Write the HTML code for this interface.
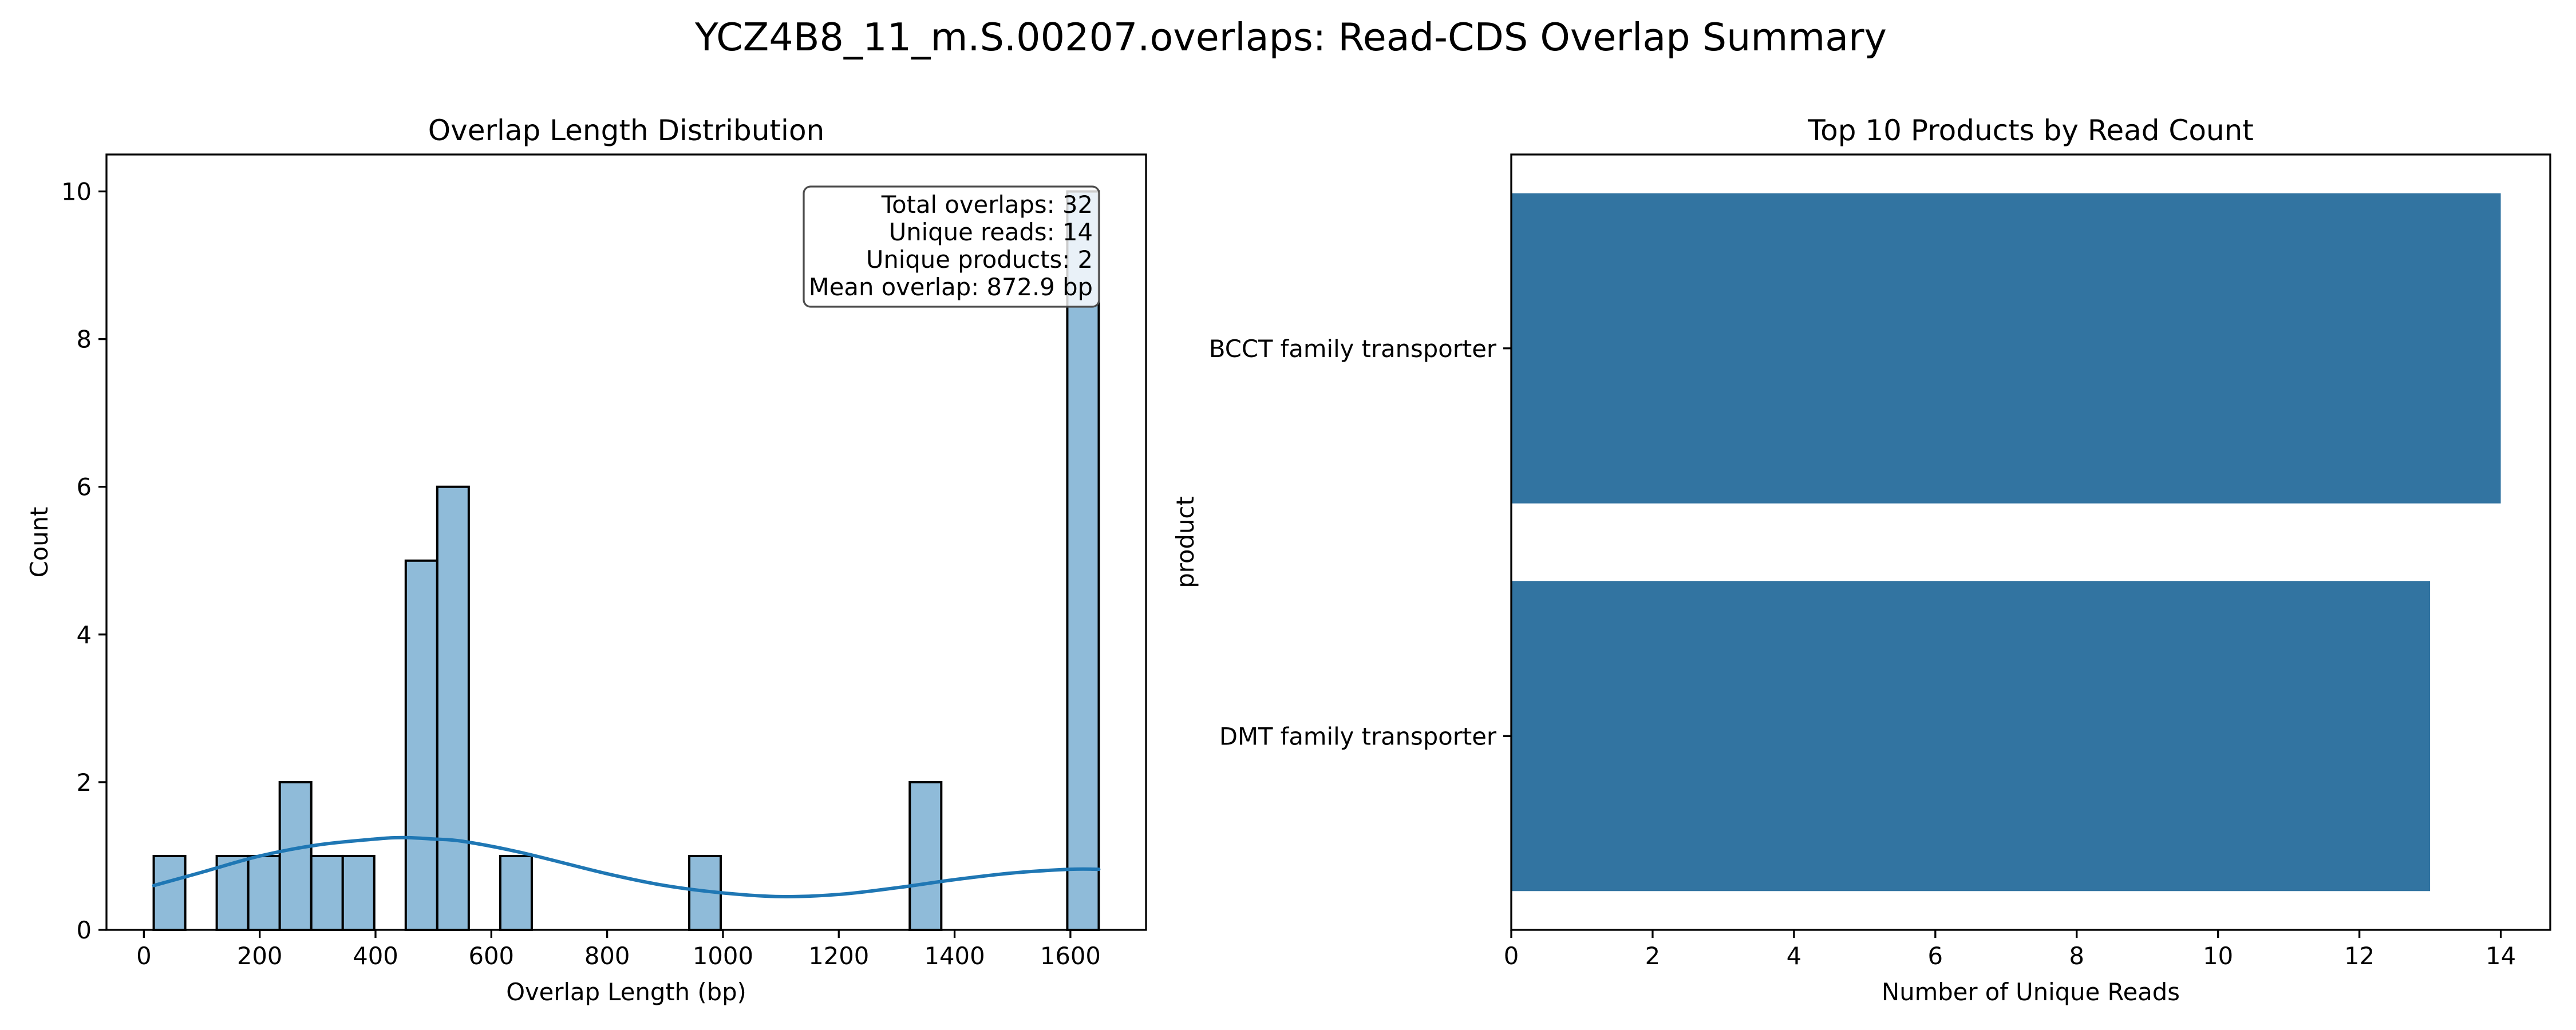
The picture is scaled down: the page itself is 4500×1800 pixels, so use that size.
<!DOCTYPE html>
<html><head><meta charset="utf-8"><style>
html,body{margin:0;padding:0;background:#fff}
svg{display:block}
text{font-family:"DejaVu Sans","Liberation Sans",sans-serif;fill:#000}
</style></head><body>
<svg id="fig" width="4500" height="1800" viewBox="0 0 4500 1800" xmlns="http://www.w3.org/2000/svg">
<rect width="4500" height="1800" fill="#fff"/>
<text x="2255" y="88" font-size="66.7" text-anchor="middle">YCZ4B8_11_m.S.00207.overlaps: Read-CDS Overlap Summary</text>
<g id="left"></g>
<g id="right"></g>
</svg>
<script>
// Histogram data
const binStart = 17;
const binWidth = 54.4;
const binCounts = [1,0,1,1,2,1,1,0,5,6,0,1,0,0,0,0,0,1,0,0,0,0,0,0,2,0,0,0,0,10];
const xTicks = [0,200,400,600,800,1000,1200,1400,1600];
const yTicks = [0,2,4,6,8,10];
const kdeX = [17,100,200,300,400,450,500,550,650,800,900,1000,1100,1200,1300,1400,1500,1600,1649];
const kdeY = [0.6,0.78,1.0,1.15,1.23,1.25,1.23,1.2,1.05,0.76,0.6,0.5,0.45,0.48,0.57,0.68,0.77,0.82,0.82];
const statLines = ["Total overlaps: 32","Unique reads: 14","Unique products: 2","Mean overlap: 872.9 bp"];
// Bar chart data
const products = ["BCCT family transporter","DMT family transporter"];
const readCounts = [14,13];
const rxTicks = [0,2,4,6,8,10,12,14];

const NS="http://www.w3.org/2000/svg";
function mk(parent,tag,attrs,txt){const e=document.createElementNS(NS,tag);for(const k in attrs)e.setAttribute(k,attrs[k]);if(txt!==undefined)e.textContent=txt;parent.appendChild(e);return e;}

// ---------- Left panel ----------
const L=document.getElementById('left');
const A={x0:186,x1:2002,y0:270,y1:1625};
const xmin=-64.6,xmax=1730.6,ymin=0,ymax=10.5;
const sx=v=>A.x0+(v-xmin)/(xmax-xmin)*(A.x1-A.x0);
const sy=v=>A.y1-(v-ymin)/(ymax-ymin)*(A.y1-A.y0);
mk(L,'text',{x:(A.x0+A.x1)/2,y:245,'font-size':50,'text-anchor':'middle',},'Overlap Length Distribution');
binCounts.forEach((c,i)=>{
  if(c<=0)return;
  const a=binStart+i*binWidth,b=a+binWidth;
  const r=mk(L,'rect',{x:sx(a),y:sy(c),width:sx(b)-sx(a),height:sy(0)-sy(c),fill:'#8fbbd9',stroke:'#000','stroke-width':4});
  
  
});
// KDE curve (Catmull-Rom)
const pts=kdeX.map((x,i)=>[sx(x),sy(kdeY[i])]);
let d=`M${pts[0][0]},${pts[0][1]}`;
for(let i=0;i<pts.length-1;i++){
  const p0=pts[Math.max(0,i-1)],p1=pts[i],p2=pts[i+1],p3=pts[Math.min(pts.length-1,i+2)];
  const c1=[p1[0]+(p2[0]-p0[0])/6,p1[1]+(p2[1]-p0[1])/6];
  const c2=[p2[0]-(p3[0]-p1[0])/6,p2[1]-(p3[1]-p1[1])/6];
  d+=`C${c1[0]},${c1[1]} ${c2[0]},${c2[1]} ${p2[0]},${p2[1]}`;
}
const kde=mk(L,'path',{d:d,fill:'none',stroke:'#1f77b4','stroke-width':6,'stroke-linecap':'round'});


mk(L,'rect',{x:A.x0,y:A.y0,width:A.x1-A.x0,height:A.y1-A.y0,fill:'none',stroke:'#000','stroke-width':3.3,});
xTicks.forEach(t=>{
  const x=sx(t);
  mk(L,'line',{x1:x,x2:x,y1:A.y1,y2:A.y1+14,stroke:'#000','stroke-width':3.3});
  const tx=mk(L,'text',{x:x,y:1685,'font-size':41.7,'text-anchor':'middle'},String(t));
  
  
});
yTicks.forEach(t=>{
  const y=sy(t);
  mk(L,'line',{x1:A.x0-14,x2:A.x0,y1:y,y2:y,stroke:'#000','stroke-width':3.3});
  const tx=mk(L,'text',{x:A.x0-26,y:y+15,'font-size':41.7,'text-anchor':'end'},String(t));
  
  
});
mk(L,'text',{x:(A.x0+A.x1)/2,y:1748,'font-size':41.7,'text-anchor':'middle',},'Overlap Length (bp)');
mk(L,'text',{x:0,y:0,'font-size':41.7,'text-anchor':'middle',transform:`translate(83,${(A.y0+A.y1)/2}) rotate(-90)`,},'Count');
// stats box
mk(L,'rect',{x:1404,y:326,width:516,height:210,rx:12,fill:'#fff','fill-opacity':0.8,stroke:'#4d4d4d','stroke-width':3.3,});
statLines.forEach((s,i)=>{
  const tx=mk(L,'text',{x:1909,y:372+i*48,'font-size':41.7,'text-anchor':'end'},s);
  
  
});

// ---------- Right panel ----------
const R=document.getElementById('right');
const B={x0:2640,x1:4455,y0:270,y1:1625};
const rmax=Math.max(...readCounts)*1.05;
const rx=v=>B.x0+v/rmax*(B.x1-B.x0);
const n=products.length;
const ry=v=>B.y0+(v+0.5)/n*(B.y1-B.y0);
mk(R,'text',{x:(B.x0+B.x1)/2,y:245,'font-size':50,'text-anchor':'middle',},'Top 10 Products by Read Count');
products.forEach((p,i)=>{
  const r=mk(R,'rect',{x:B.x0,y:ry(i-0.4),width:rx(readCounts[i])-B.x0,height:ry(i+0.4)-ry(i-0.4),fill:'#3274a1'});
  
  
  const y=ry(i);
  mk(R,'line',{x1:B.x0-14,x2:B.x0,y1:y,y2:y,stroke:'#000','stroke-width':3.3});
  const tx=mk(R,'text',{x:B.x0-26,y:y+15,'font-size':41.7,'text-anchor':'end'},p);
  
  
});
mk(R,'rect',{x:B.x0,y:B.y0,width:B.x1-B.x0,height:B.y1-B.y0,fill:'none',stroke:'#000','stroke-width':3.3,});
rxTicks.forEach(t=>{
  const x=rx(t);
  mk(R,'line',{x1:x,x2:x,y1:B.y1,y2:B.y1+14,stroke:'#000','stroke-width':3.3});
  const tx=mk(R,'text',{x:x,y:1685,'font-size':41.7,'text-anchor':'middle'},String(t));
  
  
});
mk(R,'text',{x:(B.x0+B.x1)/2,y:1748,'font-size':41.7,'text-anchor':'middle',},'Number of Unique Reads');
mk(R,'text',{x:0,y:0,'font-size':41.7,'text-anchor':'middle',transform:`translate(2085,${(B.y0+B.y1)/2}) rotate(-90)`,},'product');
</script>
</body></html>
